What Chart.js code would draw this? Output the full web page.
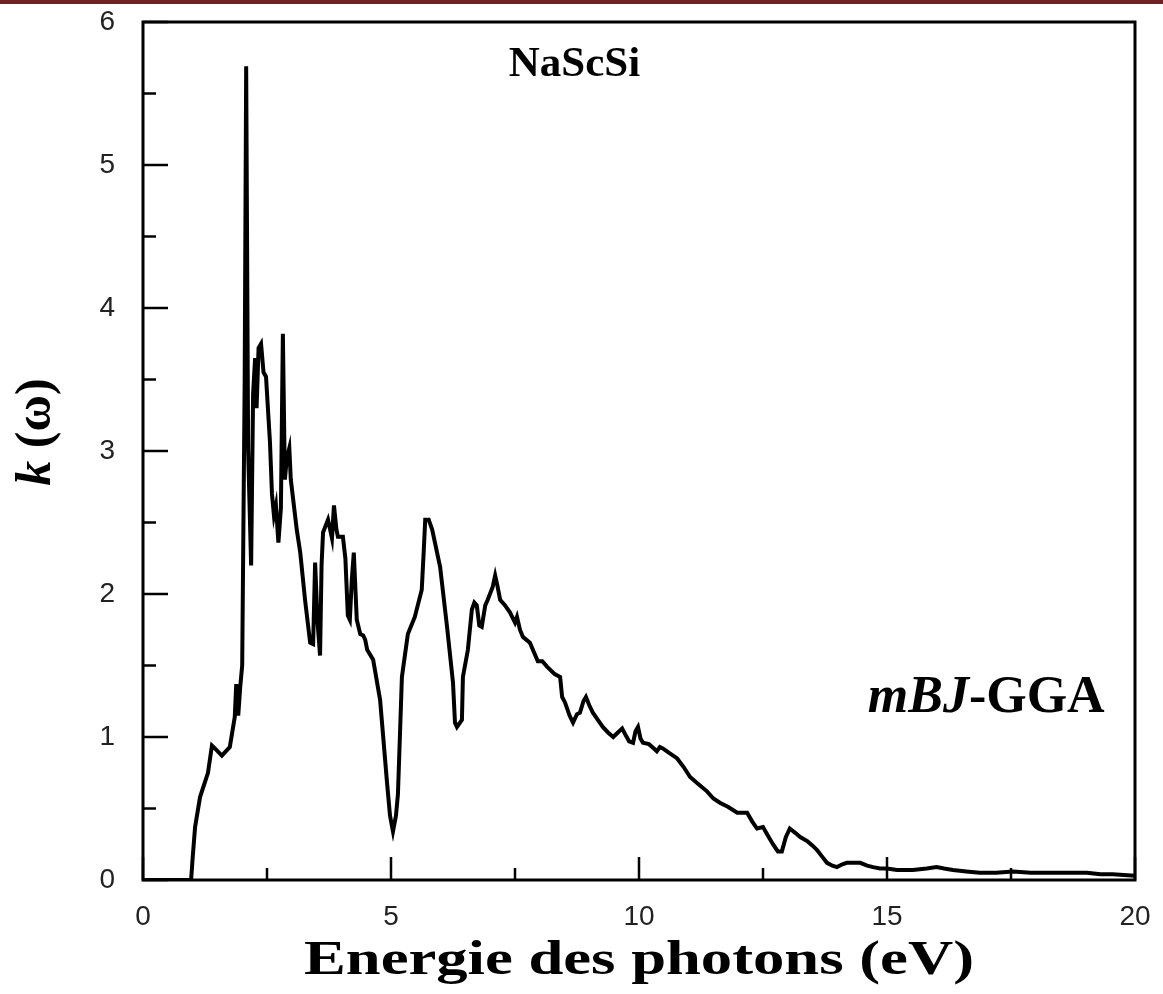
<!DOCTYPE html>
<html>
<head>
<meta charset="utf-8">
<script src="https://cdn.jsdelivr.net/npm/chart.js@4.4.1/dist/chart.umd.min.js"></script>
<style>
  body { margin: 0; background: #fff; }
  #wrap { position: relative; width: 1163px; height: 994px; }
  #topbar { position: absolute; left: 0; top: 0; width: 1163px; height: 4px; background: #6f2323; }
</style>
</head>
<body>
<div id="wrap">
  <canvas id="kChart" width="1163" height="994"></canvas>
  <div id="topbar"></div>
</div>
<script>
// 光子エネルギー (eV)
const energies = [
  0, 0.97, 1.0, 1.05, 1.15, 1.31, 1.39, 1.45, 1.59, 1.75, 1.85, 1.88, 1.92, 1.96, 2.0,
  2.05, 2.08, 2.12, 2.18, 2.22, 2.26, 2.29, 2.33, 2.38, 2.43, 2.48, 2.56, 2.6, 2.64,
  2.68, 2.73, 2.78, 2.82, 2.86, 2.9, 2.95, 2.98, 3.1, 3.17, 3.27, 3.37, 3.43, 3.47,
  3.52, 3.57, 3.6, 3.63, 3.73, 3.81, 3.85, 3.9, 3.93, 4.03, 4.08, 4.13, 4.17, 4.21,
  4.25, 4.31, 4.38, 4.44, 4.48, 4.52, 4.64, 4.78, 4.92, 4.98, 5.04, 5.1, 5.14, 5.22,
  5.34, 5.48, 5.62, 5.66, 5.69, 5.76, 5.83, 5.99, 6.13, 6.25, 6.29, 6.33, 6.43, 6.45,
  6.55, 6.63, 6.68, 6.73, 6.78, 6.83, 6.9, 6.95, 7.05, 7.1, 7.15, 7.2, 7.3, 7.4, 7.5,
  7.54, 7.6, 7.66, 7.8, 7.96, 8.05, 8.15, 8.3, 8.41, 8.45, 8.51, 8.6, 8.67, 8.75, 8.81,
  8.88, 8.93, 9.0, 9.07, 9.17, 9.27, 9.38, 9.48, 9.57, 9.66, 9.72, 9.8, 9.88, 9.93,
  9.98, 10.03, 10.08, 10.2, 10.3, 10.36, 10.42, 10.48, 10.6, 10.77, 10.9, 11.03, 11.2,
  11.37, 11.5, 11.63, 11.8, 11.98, 12.1, 12.18, 12.28, 12.38, 12.5, 12.6, 12.7, 12.8,
  12.88, 12.96, 13.04, 13.15, 13.25, 13.4, 13.5, 13.59, 13.7, 13.79, 13.9, 13.99, 14.1,
  14.19, 14.3, 14.46, 14.6, 14.72, 14.86, 15.0, 15.2, 15.52, 15.8, 16.0, 16.15, 16.33,
  16.6, 16.87, 17.2, 17.54, 17.9, 18.22, 18.6, 19.03, 19.3, 19.55, 20
];

// 消衰係数 k(ω)
const kValues = [
  0, 0, 0.15, 0.37, 0.58, 0.75, 0.94, 0.92, 0.87, 0.93, 1.14, 1.37, 1.15, 1.35, 1.5,
  3.5, 5.69, 3.0, 2.2, 3.4, 3.65, 3.3, 3.72, 3.75, 3.55, 3.52, 3.06, 2.7, 2.55,
  2.62, 2.36, 2.6, 3.82, 2.8, 2.95, 3.02, 2.8, 2.45, 2.29, 1.95, 1.66, 1.65, 2.22,
  1.8, 1.57, 2.2, 2.43, 2.52, 2.39, 2.62, 2.45, 2.4, 2.4, 2.25, 1.85, 1.82, 2.1,
  2.29, 1.82, 1.72, 1.71, 1.68, 1.61, 1.54, 1.26, 0.68, 0.45, 0.34, 0.45, 0.6, 1.42,
  1.72, 1.84, 2.03, 2.3, 2.52, 2.52, 2.45, 2.19, 1.77, 1.38, 1.1, 1.07, 1.12, 1.42,
  1.61, 1.89, 1.94, 1.92, 1.78, 1.77, 1.92, 1.96, 2.05, 2.13, 2.05, 1.96, 1.92, 1.87, 1.8,
  1.84, 1.75, 1.7, 1.66, 1.53, 1.53, 1.49, 1.44, 1.42, 1.28, 1.24, 1.15, 1.1, 1.16, 1.17,
  1.25, 1.28, 1.22, 1.17, 1.12, 1.07, 1.03, 1.0, 1.03, 1.06, 1.02, 0.97, 0.96, 1.04,
  1.07, 0.99, 0.96, 0.95, 0.92, 0.9, 0.93, 0.92, 0.89, 0.85, 0.79, 0.72, 0.67,
  0.62, 0.57, 0.54, 0.51, 0.47, 0.47, 0.47, 0.41, 0.36, 0.37, 0.31, 0.25, 0.2,
  0.2, 0.3, 0.36, 0.33, 0.3, 0.27, 0.24, 0.21, 0.16, 0.12, 0.1, 0.09, 0.11,
  0.12, 0.12, 0.12, 0.1, 0.09, 0.08, 0.08, 0.07, 0.07, 0.08, 0.09, 0.08, 0.07,
  0.06, 0.05, 0.05, 0.06, 0.05, 0.05, 0.05, 0.05, 0.04, 0.04, 0.03
];

const xMajorTicks = [0, 5, 10, 15, 20];
const yMajorTicks = [0, 1, 2, 3, 4, 5, 6];
const xMinorTicks = [2.5, 7.5, 12.5, 17.5];
const yMinorTicks = [0.5, 1.5, 2.5, 3.5, 4.5, 5.5];

const serif = '"Liberation Serif", "Times New Roman", serif';

// 枠・内向き目盛り・注記の描画
const framePlugin = {
  id: 'frame',
  afterDraw(chart) {
    const {ctx, chartArea: a, scales: {x, y}} = chart;
    ctx.save();
    ctx.strokeStyle = '#000';
    ctx.lineWidth = 3;
    ctx.strokeRect(a.left, a.top, a.right - a.left, a.bottom - a.top);

    ctx.lineWidth = 2.5;
    const tick = (x1, y1, x2, y2) => {
      ctx.beginPath();
      ctx.moveTo(x1, y1);
      ctx.lineTo(x2, y2);
      ctx.stroke();
    };
    xMajorTicks.forEach(v => { const p = x.getPixelForValue(v); tick(p, a.bottom, p, a.bottom - 23); });
    xMinorTicks.forEach(v => { const p = x.getPixelForValue(v); tick(p, a.bottom, p, a.bottom - 12); });
    yMajorTicks.forEach(v => { const p = y.getPixelForValue(v); tick(a.left, p, a.left + 25, p); });
    yMinorTicks.forEach(v => { const p = y.getPixelForValue(v); tick(a.left, p, a.left + 13, p); });

    ctx.fillStyle = '#000';
    ctx.textBaseline = 'middle';

    // 横軸タイトル（元図は横長なので横方向に伸ばす）
    ctx.save();
    ctx.font = 'bold 48px ' + serif;
    const title = 'Energie des photons (eV)';
    const tw = ctx.measureText(title).width;
    ctx.translate((a.left + a.right) / 2, 962);
    ctx.scale(670 / tw, 1);
    ctx.textAlign = 'center';
    ctx.fillText(title, 0, 0);
    ctx.restore();

    // 縦軸タイトル k (ω)
    ctx.save();
    ctx.translate(37, 432);
    ctx.rotate(-Math.PI / 2);
    ctx.font = 'italic bold 50px ' + serif;
    const wk = ctx.measureText('k').width;
    ctx.font = 'bold 50px ' + serif;
    const wr = ctx.measureText(' (ω)').width;
    const sx = -(wk + wr) / 2;
    ctx.textAlign = 'left';
    ctx.font = 'italic bold 50px ' + serif;
    ctx.fillText('k', sx, 0);
    ctx.font = 'bold 50px ' + serif;
    ctx.fillText(' (ω)', sx + wk, 0);
    ctx.restore();

    // NaScSi
    ctx.textAlign = 'center';
    ctx.font = 'bold 43px ' + serif;
    ctx.fillText('NaScSi', x.getPixelForValue(8.7), y.getPixelForValue(5.7));

    // mBJ-GGA
    ctx.textAlign = 'left';
    ctx.font = 'italic bold 52px ' + serif;
    const wm = ctx.measureText('mBJ').width;
    ctx.font = 'bold 52px ' + serif;
    const wg = ctx.measureText('-GGA').width;
    const cx = x.getPixelForValue(17.0) - (wm + wg) / 2;
    const cy = y.getPixelForValue(1.27);
    ctx.font = 'italic bold 52px ' + serif;
    ctx.fillText('mBJ', cx, cy);
    ctx.font = 'bold 52px ' + serif;
    ctx.fillText('-GGA', cx + wm, cy);
    ctx.restore();
  }
};

const ctx = document.getElementById('kChart').getContext('2d');
new Chart(ctx, {
  type: 'scatter',
  data: {
    datasets: [{
      label: 'k(ω)',
      data: energies.map((e, i) => ({x: e, y: kValues[i]})),
      showLine: true,
      borderColor: '#000',
      borderWidth: 4,
      pointRadius: 0,
      tension: 0
    }]
  },
  options: {
    responsive: false,
    animation: false,
    layout: {padding: {top: 22, right: 28, left: 0, bottom: 0}},
    plugins: {legend: {display: false}, tooltip: {enabled: false}},
    scales: {
      x: {
        type: 'linear',
        min: 0,
        max: 20,
        afterBuildTicks: s => { s.ticks = xMajorTicks.map(v => ({value: v})); },
        afterFit: s => { s.height = 114; s.paddingLeft = 0; s.paddingRight = 0; },
        grid: {display: false, drawTicks: false},
        border: {display: false},
        ticks: {
          padding: 20,
          color: '#222',
          font: {family: '"Liberation Sans", Arial, sans-serif', size: 28}
        }
      },
      y: {
        type: 'linear',
        min: 0,
        max: 6,
        afterBuildTicks: s => { s.ticks = yMajorTicks.map(v => ({value: v})); },
        afterFit: s => { s.width = 143; s.paddingTop = 0; s.paddingBottom = 0; },
        grid: {display: false, drawTicks: false},
        border: {display: false},
        ticks: {
          padding: 28,
          color: '#222',
          font: {family: '"Liberation Sans", Arial, sans-serif', size: 28}
        }
      }
    }
  },
  plugins: [framePlugin]
});
</script>
</body>
</html>
